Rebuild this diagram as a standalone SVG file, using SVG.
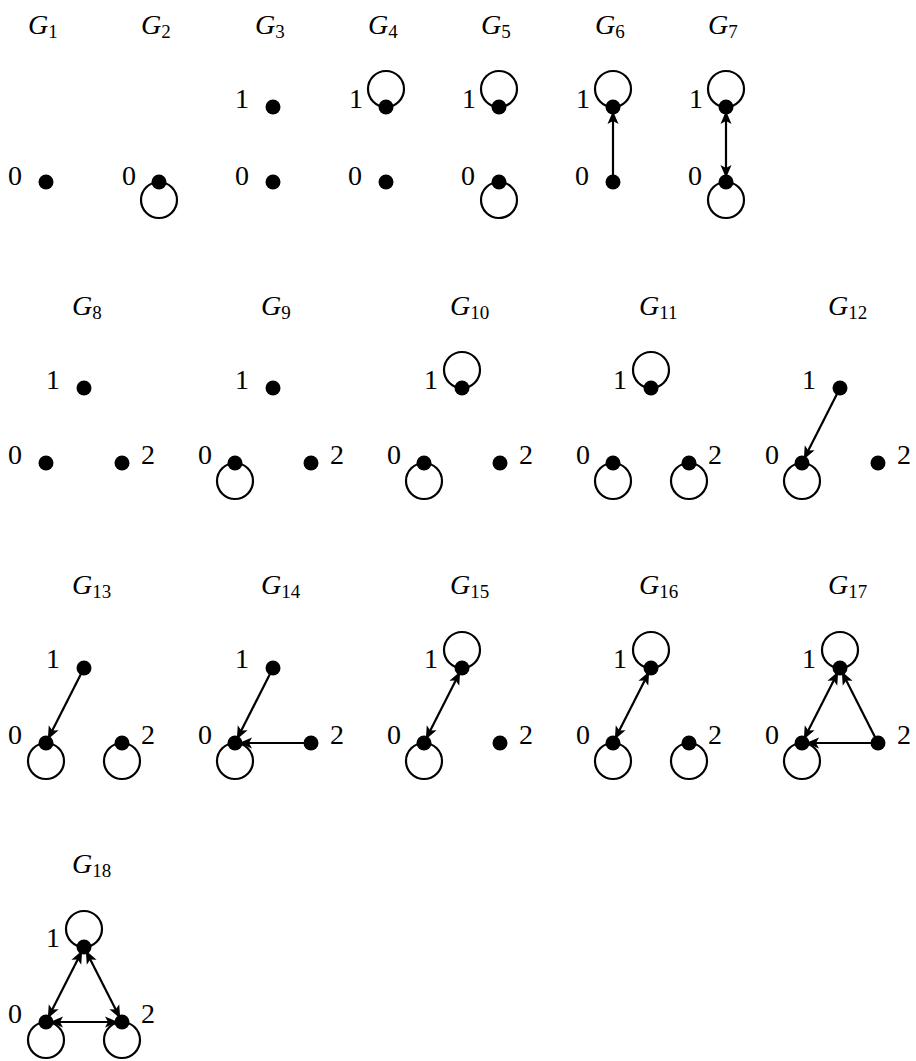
<svg xmlns="http://www.w3.org/2000/svg" width="916" height="1061" viewBox="0 0 916 1061">
<style>
.bg{fill:#fff}
.t{font-family:"Liberation Serif","DejaVu Serif",serif;font-size:28px;fill:#000}
.g{font-style:italic}
.s{font-style:normal;font-size:19px}
.lbl{text-anchor:middle}
.n{fill:#000}
.loop{fill:none;stroke:#000;stroke-width:2.2}
.e{stroke:#000;stroke-width:2.2;fill:none;marker-end:url(#ah)}
.d{marker-start:url(#ah)}
</style>
<defs>
<marker id="ah" markerUnits="userSpaceOnUse" markerWidth="15" markerHeight="13" viewBox="0 -6.5 15 13" refX="4.5" refY="0" orient="auto-start-reverse">
<path d="M13,0 L0,-5.5 L3,0 L0,5.5 Z" fill="#000"/>
</marker>
</defs>
<rect class="bg" x="0" y="0" width="916" height="1061"/>

<g id="connectors">
<circle class="loop" cx="159" cy="200" r="18"/>
<circle class="loop" cx="386" cy="89" r="18"/>
<circle class="loop" cx="499" cy="89" r="18"/>
<circle class="loop" cx="499" cy="200" r="18"/>
<circle class="loop" cx="613" cy="89" r="18"/>
<line class="e" x1="613" y1="182" x2="613" y2="119.5"/>
<circle class="loop" cx="726" cy="89" r="18"/>
<circle class="loop" cx="726" cy="200" r="18"/>
<line class="e d" x1="726" y1="169.5" x2="726" y2="119.5"/>
<circle class="loop" cx="235" cy="481" r="18"/>
<circle class="loop" cx="424" cy="481" r="18"/>
<circle class="loop" cx="462" cy="370" r="18"/>
<circle class="loop" cx="613" cy="481" r="18"/>
<circle class="loop" cx="651" cy="370" r="18"/>
<circle class="loop" cx="689" cy="481" r="18"/>
<circle class="loop" cx="802" cy="481" r="18"/>
<line class="e" x1="840" y1="388" x2="807.65" y2="451.85"/>
<circle class="loop" cx="46" cy="761" r="18"/>
<circle class="loop" cx="122" cy="761" r="18"/>
<line class="e" x1="84" y1="668" x2="51.65" y2="731.85"/>
<circle class="loop" cx="235" cy="761" r="18"/>
<line class="e" x1="273" y1="668" x2="240.65" y2="731.85"/>
<line class="e" x1="311" y1="743" x2="247.5" y2="743"/>
<circle class="loop" cx="424" cy="761" r="18"/>
<circle class="loop" cx="462" cy="650" r="18"/>
<line class="e d" x1="456.35" y1="679.15" x2="429.65" y2="731.85"/>
<circle class="loop" cx="613" cy="761" r="18"/>
<circle class="loop" cx="651" cy="650" r="18"/>
<circle class="loop" cx="689" cy="761" r="18"/>
<line class="e d" x1="645.35" y1="679.15" x2="618.65" y2="731.85"/>
<circle class="loop" cx="802" cy="761" r="18"/>
<circle class="loop" cx="840" cy="650" r="18"/>
<line class="e d" x1="834.35" y1="679.15" x2="807.65" y2="731.85"/>
<line class="e" x1="878" y1="743" x2="814.5" y2="743"/>
<line class="e" x1="878" y1="743" x2="845.65" y2="679.15"/>
<circle class="loop" cx="46" cy="1040" r="18"/>
<circle class="loop" cx="84" cy="929" r="18"/>
<circle class="loop" cx="122" cy="1040" r="18"/>
<line class="e d" x1="78.35" y1="958.15" x2="51.65" y2="1010.85"/>
<line class="e d" x1="109.5" y1="1022" x2="58.5" y2="1022"/>
<line class="e d" x1="116.35" y1="1010.85" x2="89.65" y2="958.15"/>
</g>

<g id="G1"><text class="t g" x="28" y="34">G<tspan class="s" dy="4">1</tspan></text>
<g id="G1-n0"><circle class="n" cx="46" cy="182" r="7.5"/><text class="t lbl" x="15" y="185">0</text></g></g>
<g id="G2"><text class="t g" x="141" y="34">G<tspan class="s" dy="4">2</tspan></text>
<g id="G2-n0"><circle class="n" cx="159" cy="182" r="7.5"/><text class="t lbl" x="129" y="185">0</text></g></g>
<g id="G3"><text class="t g" x="255" y="34">G<tspan class="s" dy="4">3</tspan></text>
<g id="G3-n0"><circle class="n" cx="273" cy="182" r="7.5"/><text class="t lbl" x="242" y="185">0</text></g>
<g id="G3-n1"><circle class="n" cx="273" cy="107" r="7.5"/><text class="t lbl" x="242" y="108">1</text></g></g>
<g id="G4"><text class="t g" x="368" y="34">G<tspan class="s" dy="4">4</tspan></text>
<g id="G4-n0"><circle class="n" cx="386" cy="182" r="7.5"/><text class="t lbl" x="355" y="185">0</text></g>
<g id="G4-n1"><circle class="n" cx="386" cy="107" r="7.5"/><text class="t lbl" x="356" y="108">1</text></g></g>
<g id="G5"><text class="t g" x="481" y="34">G<tspan class="s" dy="4">5</tspan></text>
<g id="G5-n0"><circle class="n" cx="499" cy="182" r="7.5"/><text class="t lbl" x="468" y="185">0</text></g>
<g id="G5-n1"><circle class="n" cx="499" cy="107" r="7.5"/><text class="t lbl" x="469" y="108">1</text></g></g>
<g id="G6"><text class="t g" x="595" y="34">G<tspan class="s" dy="4">6</tspan></text>
<g id="G6-n0"><circle class="n" cx="613" cy="182" r="7.5"/><text class="t lbl" x="582" y="185">0</text></g>
<g id="G6-n1"><circle class="n" cx="613" cy="107" r="7.5"/><text class="t lbl" x="583" y="108">1</text></g></g>
<g id="G7"><text class="t g" x="708" y="34">G<tspan class="s" dy="4">7</tspan></text>
<g id="G7-n0"><circle class="n" cx="726" cy="182" r="7.5"/><text class="t lbl" x="695" y="185">0</text></g>
<g id="G7-n1"><circle class="n" cx="726" cy="107" r="7.5"/><text class="t lbl" x="696" y="108">1</text></g></g>

<g id="G8"><text class="t g" x="72" y="315">G<tspan class="s" dy="4">8</tspan></text>
<g id="G8-n0"><circle class="n" cx="46" cy="463" r="7.5"/><text class="t lbl" x="15" y="464">0</text></g>
<g id="G8-n1"><circle class="n" cx="84" cy="388" r="7.5"/><text class="t lbl" x="53" y="389">1</text></g>
<g id="G8-n2"><circle class="n" cx="122" cy="463" r="7.5"/><text class="t lbl" x="148" y="464">2</text></g></g>
<g id="G9"><text class="t g" x="261" y="315">G<tspan class="s" dy="4">9</tspan></text>
<g id="G9-n0"><circle class="n" cx="235" cy="463" r="7.5"/><text class="t lbl" x="205" y="464">0</text></g>
<g id="G9-n1"><circle class="n" cx="273" cy="388" r="7.5"/><text class="t lbl" x="242" y="389">1</text></g>
<g id="G9-n2"><circle class="n" cx="311" cy="463" r="7.5"/><text class="t lbl" x="337" y="464">2</text></g></g>
<g id="G10"><text class="t g" x="450" y="315">G<tspan class="s" dy="4">10</tspan></text>
<g id="G10-n0"><circle class="n" cx="424" cy="463" r="7.5"/><text class="t lbl" x="394" y="464">0</text></g>
<g id="G10-n1"><circle class="n" cx="462" cy="388" r="7.5"/><text class="t lbl" x="431" y="389">1</text></g>
<g id="G10-n2"><circle class="n" cx="500" cy="463" r="7.5"/><text class="t lbl" x="526" y="464">2</text></g></g>
<g id="G11"><text class="t g" x="639" y="315">G<tspan class="s" dy="4">11</tspan></text>
<g id="G11-n0"><circle class="n" cx="613" cy="463" r="7.5"/><text class="t lbl" x="583" y="464">0</text></g>
<g id="G11-n1"><circle class="n" cx="651" cy="388" r="7.5"/><text class="t lbl" x="620" y="389">1</text></g>
<g id="G11-n2"><circle class="n" cx="689" cy="463" r="7.5"/><text class="t lbl" x="715" y="464">2</text></g></g>
<g id="G12"><text class="t g" x="828" y="315">G<tspan class="s" dy="4">12</tspan></text>
<g id="G12-n0"><circle class="n" cx="802" cy="463" r="7.5"/><text class="t lbl" x="772" y="464">0</text></g>
<g id="G12-n1"><circle class="n" cx="840" cy="388" r="7.5"/><text class="t lbl" x="809" y="389">1</text></g>
<g id="G12-n2"><circle class="n" cx="878" cy="463" r="7.5"/><text class="t lbl" x="904" y="464">2</text></g></g>

<g id="G13"><text class="t g" x="72" y="594">G<tspan class="s" dy="4">13</tspan></text>
<g id="G13-n0"><circle class="n" cx="46" cy="743" r="7.5"/><text class="t lbl" x="15" y="744">0</text></g>
<g id="G13-n1"><circle class="n" cx="84" cy="668" r="7.5"/><text class="t lbl" x="53" y="668">1</text></g>
<g id="G13-n2"><circle class="n" cx="122" cy="743" r="7.5"/><text class="t lbl" x="148" y="744">2</text></g></g>
<g id="G14"><text class="t g" x="261" y="594">G<tspan class="s" dy="4">14</tspan></text>
<g id="G14-n0"><circle class="n" cx="235" cy="743" r="7.5"/><text class="t lbl" x="205" y="744">0</text></g>
<g id="G14-n1"><circle class="n" cx="273" cy="668" r="7.5"/><text class="t lbl" x="242" y="668">1</text></g>
<g id="G14-n2"><circle class="n" cx="311" cy="743" r="7.5"/><text class="t lbl" x="337" y="744">2</text></g></g>
<g id="G15"><text class="t g" x="450" y="594">G<tspan class="s" dy="4">15</tspan></text>
<g id="G15-n0"><circle class="n" cx="424" cy="743" r="7.5"/><text class="t lbl" x="394" y="744">0</text></g>
<g id="G15-n1"><circle class="n" cx="462" cy="668" r="7.5"/><text class="t lbl" x="431" y="668">1</text></g>
<g id="G15-n2"><circle class="n" cx="500" cy="743" r="7.5"/><text class="t lbl" x="526" y="744">2</text></g></g>
<g id="G16"><text class="t g" x="639" y="594">G<tspan class="s" dy="4">16</tspan></text>
<g id="G16-n0"><circle class="n" cx="613" cy="743" r="7.5"/><text class="t lbl" x="583" y="744">0</text></g>
<g id="G16-n1"><circle class="n" cx="651" cy="668" r="7.5"/><text class="t lbl" x="620" y="668">1</text></g>
<g id="G16-n2"><circle class="n" cx="689" cy="743" r="7.5"/><text class="t lbl" x="715" y="744">2</text></g></g>
<g id="G17"><text class="t g" x="828" y="594">G<tspan class="s" dy="4">17</tspan></text>
<g id="G17-n0"><circle class="n" cx="802" cy="743" r="7.5"/><text class="t lbl" x="772" y="744">0</text></g>
<g id="G17-n1"><circle class="n" cx="840" cy="668" r="7.5"/><text class="t lbl" x="809" y="668">1</text></g>
<g id="G17-n2"><circle class="n" cx="878" cy="743" r="7.5"/><text class="t lbl" x="904" y="744">2</text></g></g>

<g id="G18"><text class="t g" x="72" y="873">G<tspan class="s" dy="4">18</tspan></text>
<g id="G18-n0"><circle class="n" cx="46" cy="1022" r="7.5"/><text class="t lbl" x="15" y="1023">0</text></g>
<g id="G18-n1"><circle class="n" cx="84" cy="947" r="7.5"/><text class="t lbl" x="53" y="947">1</text></g>
<g id="G18-n2"><circle class="n" cx="122" cy="1022" r="7.5"/><text class="t lbl" x="148" y="1023">2</text></g></g>
</svg>
